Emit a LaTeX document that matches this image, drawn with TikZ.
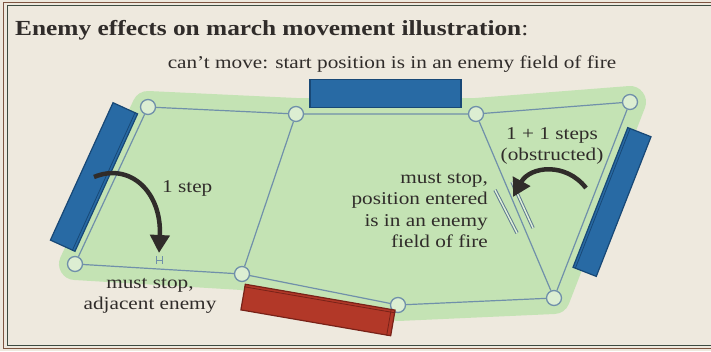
\documentclass[tikz,border=0pt]{standalone}
\usepackage{fontspec}
\setmainfont[FakeStretch=1.18]{Liberation Serif}
\definecolor{paper}{RGB}{238,233,222}
\definecolor{fieldgreen}{RGB}{196,227,180}
\definecolor{edgeblue}{RGB}{112,144,170}
\definecolor{unitblue}{RGB}{40,106,164}
\definecolor{unitbluedk}{RGB}{24,72,118}
\definecolor{unitred}{RGB}{178,56,40}
\definecolor{unitreddk}{RGB}{120,34,24}
\definecolor{inkgray}{RGB}{48,44,42}
\definecolor{framebrown}{RGB}{125,85,65}
\definecolor{framegreen}{RGB}{60,75,65}
\usetikzlibrary{arrows.meta,backgrounds,calc}

\begin{document}
\begin{tikzpicture}[x=1pt,y=-1pt,
    every node/.style={font=\fontsize{18}{21.5}\selectfont,text=inkgray},
    spot/.style={circle,draw=edgeblue,line width=1.3pt,fill=fieldgreen!60!white,minimum size=15pt,inner sep=0pt},
    route/.style={draw=edgeblue,line width=1.2pt},
    unit/.style={draw=#1dk,fill=#1,line width=1.2pt,inner sep=0pt},
    move/.style={inkgray,line width=4.5pt,-{Triangle[length=18pt,width=19pt]}},
    block/.style={edgeblue!85!black,line width=1pt,double=fieldgreen!50!white,double distance=1.4pt}]
  \useasboundingbox (0,0) rectangle (711,351);

  %% Positions and routes
  \node[spot] (t1) at (148,107) {};
  \node[spot] (t2) at (296,114) {};
  \node[spot] (t3) at (476,114) {};
  \node[spot] (t4) at (630,102) {};
  \node[spot] (b1) at (75,264) {};
  \node[spot] (b2) at (242,274) {};
  \node[spot] (b3) at (398,305) {};
  \node[spot] (b4) at (554,298) {};
  \draw[route] (t1) -- (t2) -- (t3) -- (t4);
  \draw[route] (b1) -- (b2) -- (b3) -- (b4);
  \draw[route] (t1) -- (b1);
  \draw[route] (t2) -- (b2);
  \draw[route] (t3) -- (b4);
  \draw[route] (t4) -- (b4);

  %% Paper and field
  \begin{pgfonlayer}{background}
    \fill[paper] (0,0) rectangle (711,351);
    \draw[framebrown,line width=1pt] (730,2) -- (3.5,2) -- (3.5,348.5) -- (730,348.5);
    \draw[framegreen,line width=1pt] (730,5.5) -- (7,5.5) -- (7,345) -- (730,345);
    \fill[fieldgreen] (t1.center) -- (t2.center) -- (t3.center) -- (t4.center)
      -- (b4.center) -- (b3.center) -- (b2.center) -- (b1.center) -- cycle;
    \draw[fieldgreen,line width=32pt,line join=round] (t1.center) -- (t2.center)
      -- (t3.center) -- (t4.center) -- (b4.center) -- (b3.center) -- (b2.center)
      -- (b1.center) -- cycle;
  \end{pgfonlayer}

  %% Units
  \node[unit=unitblue,minimum width=151pt,minimum height=28pt] (utop) at (385.5,93.5) {};
  \node[unit=unitblue,minimum width=151pt,minimum height=27pt,rotate=65.5] (uleft) at (94,177) {};
  \node[unit=unitblue,minimum width=150pt,minimum height=25pt,rotate=68.6] (uright) at (612,202) {};
  \node[unit=unitred,minimum width=152pt,minimum height=26pt,rotate=-9.8] (ured) at (318,310) {};
  % side faces
  \draw[unitbluedk,line width=0.8pt] ($(uleft.south west)!0.12!(uleft.north west)$) -- ($(uleft.south east)!0.12!(uleft.north east)$);
  \draw[unitbluedk,line width=0.8pt] ($(uright.north west)!0.12!(uright.south west)$) -- ($(uright.north east)!0.12!(uright.south east)$);
  \draw[unitreddk,line width=0.8pt] ($(ured.north west)!0.12!(ured.south west)$) -- ($(ured.north east)!0.12!(ured.south east)$);
  \draw[unitreddk,line width=0.8pt] ($(ured.north east)!0.03!(ured.north west)$) -- ($(ured.south east)!0.03!(ured.south west)$);

  %% Markers
  \draw[edgeblue,line width=0.8pt] (156,256) -- (156,264) (162,256) -- (162,264) (156,260) -- (162,260);
  \coordinate (stop1) at (159,253);
  \draw[block] (495,190) -- (517,233);
  \draw[block] (512,182) -- (533,228);
  \coordinate (stop2) at (513,197);

  %% Moves
  \draw[move] (uleft.center) .. controls (130,162) and (162,192) .. (stop1);
  \draw[move] (586,188) .. controls (566,162) and (530,166) .. (stop2);

  %% Labels
  \node[anchor=base west,inner sep=0pt,font=\fontsize{21.5}{26}\selectfont\bfseries] (title) at (15,35)
    {Enemy effects on march movement illustration\textmd{:}};
  \node[anchor=base] (cant) at (392,68) {can’t move: start position is in an enemy field of fire};
  \node[anchor=base west,inner sep=0pt] (onestep) at (162,192) {1 step};
  \node[align=center,anchor=north,inner sep=0pt] (adj) at (150,278) {must stop,\\adjacent enemy};
  \node[align=center,anchor=north,inner sep=0pt] (twostep) at (552,127) {1 + 1 steps\\(obstructed)};
  \node[align=right,anchor=north east,inner sep=0pt] (fof) at (488,173)
    {must stop,\\position entered\\is in an enemy\\field of fire};
\end{tikzpicture}
\end{document}
